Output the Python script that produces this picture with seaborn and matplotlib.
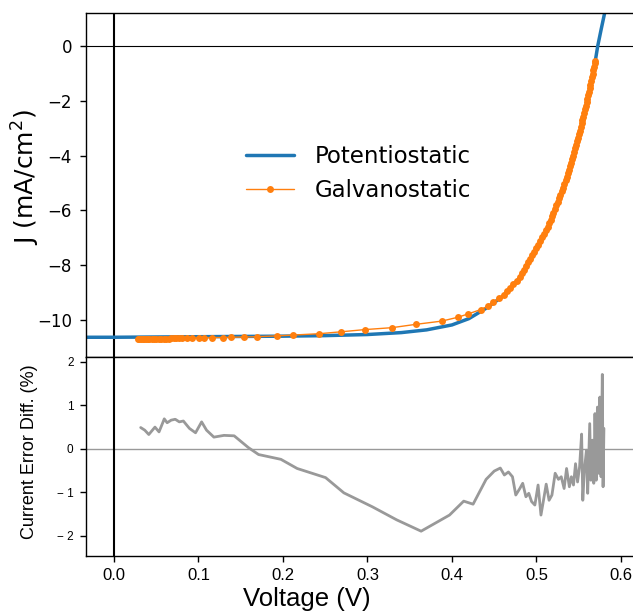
import matplotlib
matplotlib.use("Agg")
import matplotlib.pyplot as plt
import seaborn as sns
import pandas as pd

# Potentiostatic J-V curve
pot_v = [-0.040, 0.0, 0.05, 0.10, 0.15, 0.20, 0.25, 0.30, 0.34, 0.37, 0.40, 0.42,
         0.44, 0.46, 0.48, 0.496, 0.512, 0.526, 0.538, 0.5475, 0.5554, 0.5633,
         0.5692, 0.5725, 0.5765, 0.581, 0.585]
pot_j = [-10.63, -10.63, -10.62, -10.61, -10.60, -10.59, -10.57, -10.53, -10.46, -10.36,
         -10.18, -9.95, -9.58, -9.14, -8.47, -7.64, -6.77, -5.67, -4.70, -3.60, -2.62,
         -1.52, -0.62, 0.0, 0.6, 1.25, 1.8]

# Galvanostatic J-V points
gal_v = [0.028, 0.030, 0.032, 0.034, 0.036, 0.038, 0.040, 0.042, 0.045, 0.048, 0.050,
         0.053, 0.056, 0.059, 0.062, 0.065, 0.068, 0.071, 0.074, 0.077, 0.080,
         0.086, 0.093, 0.101, 0.107, 0.116, 0.129, 0.138, 0.154, 0.169, 0.193, 0.212,
         0.243, 0.269, 0.297, 0.329, 0.357, 0.388, 0.407, 0.419, 0.434, 0.443, 0.449,
         0.456, 0.461, 0.4648, 0.4687, 0.4725, 0.4764, 0.4802, 0.4829, 0.4853, 0.4877,
         0.4901, 0.4925, 0.4949, 0.4973, 0.4997, 0.5021, 0.5046, 0.507, 0.5094, 0.5118,
         0.5135, 0.5151, 0.5168, 0.5184, 0.520, 0.5217, 0.5233, 0.5249, 0.5265, 0.5281,
         0.5297, 0.5313, 0.5329, 0.5345, 0.5361, 0.5377, 0.5389, 0.540, 0.5412, 0.5423,
         0.5435, 0.5446, 0.5458, 0.547, 0.5481, 0.5491, 0.5502, 0.5512, 0.5523, 0.5534,
         0.5544, 0.5554, 0.5563, 0.5573, 0.5582, 0.5592, 0.5601, 0.5611, 0.562, 0.5629,
         0.5638, 0.5647, 0.5655, 0.5663, 0.5672, 0.568, 0.5688, 0.5693]
gal_j = [-10.69, -10.70, -10.69, -10.70, -10.69, -10.69, -10.70, -10.69, -10.69, -10.68, -10.69,
         -10.68, -10.68, -10.68, -10.68, -10.68, -10.67, -10.67, -10.67, -10.67, -10.67,
         -10.66, -10.66, -10.65, -10.65, -10.64, -10.64, -10.63, -10.62, -10.61, -10.58, -10.55,
         -10.50, -10.43, -10.35, -10.28, -10.16, -10.04, -9.90, -9.78, -9.62, -9.49, -9.35,
         -9.20, -9.07, -8.95, -8.82, -8.69, -8.56, -8.43, -8.29, -8.16, -8.03,
         -7.90, -7.77, -7.64, -7.51, -7.38, -7.25, -7.12, -6.99, -6.86, -6.73,
         -6.60, -6.47, -6.34, -6.21, -6.08, -5.95, -5.82, -5.69, -5.56, -5.43,
         -5.30, -5.17, -5.04, -4.91, -4.78, -4.65, -4.52, -4.39, -4.26, -4.13,
         -4.00, -3.87, -3.74, -3.61, -3.48, -3.35, -3.22, -3.09, -2.96, -2.83,
         -2.70, -2.58, -2.45, -2.32, -2.19, -2.06, -1.93, -1.80, -1.67, -1.54,
         -1.41, -1.28, -1.15, -1.02, -0.89, -0.76, -0.63, -0.55]

# Current error difference (%)
err_v = [0.0317, 0.0365, 0.0413, 0.0486, 0.0534, 0.0582, 0.0596, 0.0630, 0.0678, 0.0726,
         0.0774, 0.0822, 0.0894, 0.0966, 0.1038, 0.1096, 0.1183, 0.1303, 0.1423, 0.1591,
         0.1712, 0.1976, 0.2168, 0.2505, 0.2721, 0.3058, 0.3346, 0.3635, 0.3971, 0.4139,
         0.4250, 0.4404, 0.4500, 0.4572, 0.4620, 0.4668, 0.4716, 0.4755, 0.4803, 0.4837,
         0.4875, 0.4909, 0.4942, 0.4981, 0.5019, 0.5053, 0.5077, 0.5115, 0.5149, 0.5183,
         0.5221, 0.5260, 0.5293, 0.5327, 0.5356, 0.5389, 0.5413, 0.5438, 0.5462, 0.5486,
         0.5510, 0.5534, 0.5548, 0.5567, 0.5591, 0.5606, 0.5630, 0.5644, 0.5663, 0.5678,
         0.5692, 0.5707, 0.5721, 0.5736, 0.5750, 0.5764, 0.5779, 0.5788, 0.5798]
err_p = [0.49, 0.43, 0.33, 0.50, 0.39, 0.62, 0.69, 0.60, 0.66, 0.68,
         0.62, 0.64, 0.47, 0.37, 0.62, 0.43, 0.27, 0.31, 0.30, 0.03,
         -0.13, -0.24, -0.45, -0.66, -1.01, -1.33, -1.63, -1.89, -1.52, -1.20,
         -1.27, -0.70, -0.51, -0.44, -0.60, -0.53, -0.64, -1.06, -0.91, -0.79,
         -1.10, -1.02, -1.21, -1.29, -0.83, -1.52, -1.25, -0.81, -1.18, -1.06,
         -0.56, -0.70, -0.64, -0.91, -0.45, -0.87, -0.64, -0.83, -0.34, -0.76,
         -0.41, 0.34, -1.18, -0.49, -0.03, -1.02, 0.58, -0.72, 0.20, -0.79,
         0.81, -0.72, 0.96, -0.56, 1.19, -0.64, 1.71, -0.87, 0.47]

sns.set_style("white")
plt.rcParams['font.family'] = ['DejaVu Sans']
plt.rcParams['axes.unicode_minus'] = True
for k in ["text.color", "axes.labelcolor", "xtick.color", "ytick.color",
          "xtick.labelcolor", "ytick.labelcolor"]:
    plt.rcParams[k] = "black"

fig = plt.figure(figsize=(6.33, 6.15), dpi=100)
left = 86 / 633
right_px = 114 + 0.62 * 845
width = (right_px - 86) / 633
ax1 = fig.add_axes([left, 1 - 357 / 615, width, (357 - 13) / 615])
ax2 = fig.add_axes([left, 1 - 556 / 615, width, (556 - 357) / 615])

pot_df = pd.DataFrame({"V": pot_v, "J": pot_j})
gal_df = pd.DataFrame({"V": gal_v, "J": gal_j})
err_df = pd.DataFrame({"V": err_v, "E": err_p})

ax1.axhline(0, color="black", lw=0.8, zorder=1)
ax1.axvline(0, color="black", lw=1.5, zorder=1)
sns.lineplot(data=pot_df, x="V", y="J", sort=False, ax=ax1, color="#1f77b4", lw=2.5,
             label="Potentiostatic", zorder=2)
sns.lineplot(data=gal_df, x="V", y="J", sort=False, ax=ax1, color="#ff7f0e", lw=1,
             marker="o", markersize=5, markeredgewidth=0, label="Galvanostatic", zorder=3)
ax1.set_xlim(-0.033, 0.62)
ax1.set_ylim(-11.35, 1.2)
ax1.set_yticks([0, -2, -4, -6, -8, -10])
ax1.set_xticks([])
ax1.set_xlabel("")
ax1.set_ylabel("J (mA/cm$^2$)", fontsize=18)
ax1.yaxis.set_label_coords(-0.079, 0.523)
ax1.tick_params(axis="y", labelsize=12, left=True, length=4, width=1, color="black", pad=6)
for s in ax1.spines.values():
    s.set_color("black")
    s.set_linewidth(1)
leg = ax1.legend(loc="upper left", bbox_to_anchor=(0.252, 0.675), frameon=False,
                 fontsize=16.5, handlelength=2.1, labelspacing=0.45, handletextpad=0.9)

ax2.axhline(0, color="#999999", lw=1, zorder=1)
ax2.axvline(0, color="black", lw=1.5, zorder=1)
sns.lineplot(data=err_df, x="V", y="E", sort=False, ax=ax2, color="#999999", lw=2, zorder=2)
ax2.set_xlim(-0.033, 0.62)
ax2.set_ylim(-2.46, 2.11)
ax2.set_yticks([2, 1, 0, -1, -2])
ax2.set_yticklabels(["2", "1", "0", "\u2212 1", "\u2212 2"])
ax2.set_xticks([0.0, 0.1, 0.2, 0.3, 0.4, 0.5, 0.6])
ax2.set_xticklabels(["0.0", "0.1", "0.2", "0.3", "0.4", "0.5", "0.6"])
sansf = "Liberation Sans"
for t in ax2.get_yticklabels():
    t.set_fontfamily(sansf)
    t.set_fontsize(8.5)
for t in ax2.get_xticklabels():
    t.set_fontfamily(sansf)
    t.set_fontsize(12)
ax2.set_xlabel("Voltage (V)", fontsize=18.5, family=sansf)
ax2.xaxis.set_label_coords(0.40, -0.155)
ax2.set_ylabel("Current Error Diff. (%)", fontsize=13, family=sansf)
ax2.yaxis.set_label_coords(-0.087, 0.523)
ax2.tick_params(axis="both", left=True, bottom=True, length=4, width=1, color="black", pad=5)
for s in ax2.spines.values():
    s.set_color("black")
    s.set_linewidth(1)

fig.savefig("out.png", dpi=100)
